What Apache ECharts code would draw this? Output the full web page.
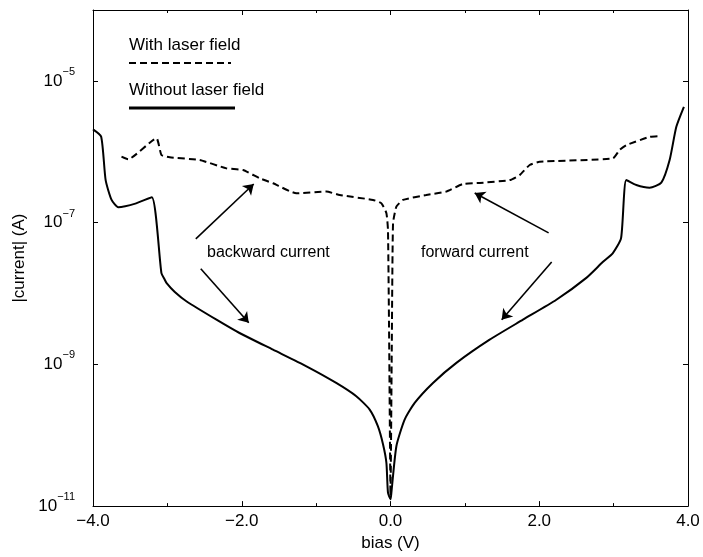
<!DOCTYPE html>
<html><head><meta charset="utf-8">
<script src="https://cdn.jsdelivr.net/npm/echarts@6/dist/echarts.min.js"></script>
<style>html,body{margin:0;padding:0;background:#fff}#c{width:703px;height:557px}</style>
</head><body><div id="c"></div>
<script>
// ---- data (bias in V, |current| in A) ----
const biasWithout = [-4.0, -3.89, -3.83, -3.75, -3.66, -3.42, -3.21, -3.08, -3.04, -3.01, -2.90, -2.74, -2.34, -2.03, -1.58, -1.13, -0.73, -0.46, -0.28, -0.17, -0.10, -0.055, -0.034, 0.0,
  0.012, 0.079, 0.19, 0.325, 0.571, 0.886, 1.333, 1.781, 2.23, 2.633, 2.85, 2.99, 3.10, 3.17, 3.305, 3.484, 3.641, 3.753, 3.843, 3.945];
const currentWithout = [2.07e-6, 1.63e-6, 3.98e-7, 2.09e-7, 1.65e-7, 1.87e-7, 2.28e-7, 1.94e-8, 1.60e-8, 1.40e-8, 1.05e-8, 7.71e-9, 4.27e-9, 2.77e-9, 1.61e-9, 9.38e-10, 5.47e-10, 3.55e-10, 2.30e-10, 1.34e-10, 7.41e-11, 4.07e-11, 1.55e-11, 1.25e-11,
  1.55e-11, 7.0e-11, 1.66e-10, 2.86e-10, 5.47e-10, 1.05e-9, 2.23e-9, 4.27e-9, 8.15e-9, 1.66e-8, 2.75e-8, 3.72e-8, 6.03e-8, 3.98e-7, 3.39e-7, 3.11e-7, 3.66e-7, 7.64e-7, 2.25e-6, 4.31e-6];
const biasWith = [-3.617, -3.528, -3.147, -3.08, -2.968, -2.565, -2.206, -1.983, -1.758, -1.579, -1.265, -0.862, -0.683, -0.235, -0.122, -0.055, -0.034, -0.017, 0.0,
  0.017, 0.034, 0.079, 0.168, 0.48, 0.75, 0.974, 1.2, 1.602, 1.737, 1.871, 2.005, 2.99, 3.081, 3.17, 3.484, 3.628];
const currentWith = [8.51e-7, 7.82e-7, 1.55e-6, 9.0e-7, 8.34e-7, 7.64e-7, 5.83e-7, 5.53e-7, 4.22e-7, 3.59e-7, 2.59e-7, 2.74e-7, 2.45e-7, 2.09e-7, 1.87e-7, 1.36e-7, 7.89e-8, 1.62e-9, 1.41e-11,
  1.58e-9, 9.77e-8, 1.68e-7, 2.09e-7, 2.45e-7, 2.74e-7, 3.51e-7, 3.63e-7, 3.98e-7, 4.68e-7, 6.5e-7, 7.23e-7, 8.07e-7, 1.06e-6, 1.24e-6, 1.62e-6, 1.66e-6];
// arrows: [startBias, startCurrent, endBias, endCurrent]
const arrowsBackward = [[-2.618, 5.89e-8, -1.839, 3.51e-7], [-2.551, 2.23e-8, -1.906, 3.86e-9]];
const arrowsForward = [[2.126, 7.16e-8, 1.132, 2.62e-7], [2.167, 2.79e-8, 1.495, 4.27e-9]];
const seriesNames = ['With laser field', 'Without laser field'];
const annotationTexts = ['backward current', 'forward current'];
const xTickStep = 2;
const yDecadeStep = 2;

const FONT = '"Liberation Sans", Arial, Helvetica, sans-serif';
const lg = Math.log10;
const pair = (xs, ys) => xs.map((x, i) => [x, lg(ys[i])]);
const arrowData = arr => arr.map(a => [{coord: [a[0], lg(a[1])]}, {coord: [a[2], lg(a[3])]}]);

const chart = echarts.init(document.getElementById('c'), null, {renderer: 'canvas'});
const xBase = {
  type: 'value', min: -4, max: 4, interval: xTickStep,
  axisLine: {show: true, onZero: false, lineStyle: {color: '#000', width: 1}},
  axisTick: {show: true, inside: true, length: 5, lineStyle: {color: '#000'}},
  minorTick: {show: true, splitNumber: 2, length: 3, lineStyle: {color: '#000'}},
  splitLine: {show: false}
};
const yBase = {
  type: 'value', min: -11, max: -4, interval: yDecadeStep,
  axisLine: {show: true, onZero: false, lineStyle: {color: '#000', width: 1}},
  axisTick: {show: true, inside: true, length: 5, lineStyle: {color: '#000'}},
  splitLine: {show: false}
};
const arrowMarkLine = arr => ({
  silent: true, symbol: ['none', 'arrow'], symbolSize: 10,
  label: {show: false},
  itemStyle: {color: '#000'},
  lineStyle: {color: '#000', width: 1.6, type: 'solid'},
  emphasis: {disabled: true},
  data: arrowData(arr)
});
const option = {
  animation: false,
  backgroundColor: '#fff',
  color: ['#000', '#000'],
  grid: {left: 93, right: 15, top: 10, bottom: 50, containLabel: false},
  xAxis: [
    Object.assign({}, xBase, {
      position: 'bottom',
      name: 'bias (V)', nameLocation: 'middle', nameGap: 28,
      nameTextStyle: {fontFamily: FONT, fontSize: 17, color: '#000'},
      axisLabel: {margin: 7, fontFamily: FONT, fontSize: 17, color: '#000',
        formatter: v => (v < 0 ? '\u2212' : '') + Math.abs(v).toFixed(1)}
    }),
    Object.assign({}, xBase, {position: 'top', axisLabel: {show: false}})
  ],
  yAxis: [
    Object.assign({}, yBase, {
      position: 'left',
      name: '|current| (A)', nameLocation: 'middle', nameGap: 64, nameRotate: 90,
      nameTextStyle: {fontFamily: FONT, fontSize: 17, color: '#000'},
      axisLabel: {margin: 18, showMaxLabel: false,
        formatter: v => (Math.round(v) % 2 === 0 || v > -5) ? '' : '{b|10}{e|\u2212' + Math.abs(v) + '}',
        rich: {
          b: {fontFamily: FONT, fontSize: 17, color: '#000'},
          e: {fontFamily: FONT, fontSize: 11, color: '#000', padding: [0, 0, 18, 0]}
        }}
    }),
    Object.assign({}, yBase, {position: 'right', axisLabel: {show: false}})
  ],
  series: [
    {
      name: seriesNames[0], type: 'line', showSymbol: false, symbol: 'none',
      smooth: 0.15,
      data: pair(biasWith, currentWith),
      itemStyle: {color: '#000'},
      lineStyle: {color: '#000', width: 2, type: [7, 4]},
      markLine: arrowMarkLine(arrowsBackward)
    },
    {
      name: seriesNames[1], type: 'line', showSymbol: false, symbol: 'none',
      smooth: 0.2,
      data: pair(biasWithout, currentWithout),
      itemStyle: {color: '#000'},
      lineStyle: {color: '#000', width: 2},
      markLine: arrowMarkLine(arrowsForward)
    }
  ],
  graphic: [
    {type: 'text', left: 129, top: 37, style: {text: seriesNames[0], font: '17px ' + FONT, fill: '#000'}},
    {type: 'line', shape: {x1: 129, y1: 63, x2: 231, y2: 63}, style: {stroke: '#000', lineWidth: 2, lineDash: [7, 4]}},
    {type: 'text', left: 129, top: 82, style: {text: seriesNames[1], font: '17px ' + FONT, fill: '#000'}},
    {type: 'line', shape: {x1: 129, y1: 108, x2: 235, y2: 108}, style: {stroke: '#000', lineWidth: 3}},
    {type: 'text', left: 207, top: 245, style: {text: annotationTexts[0], font: '16px ' + FONT, fill: '#000'}},
    {type: 'text', left: 421, top: 245, style: {text: annotationTexts[1], font: '16px ' + FONT, fill: '#000'}}
  ]
};
chart.setOption(option);
</script></body></html>
